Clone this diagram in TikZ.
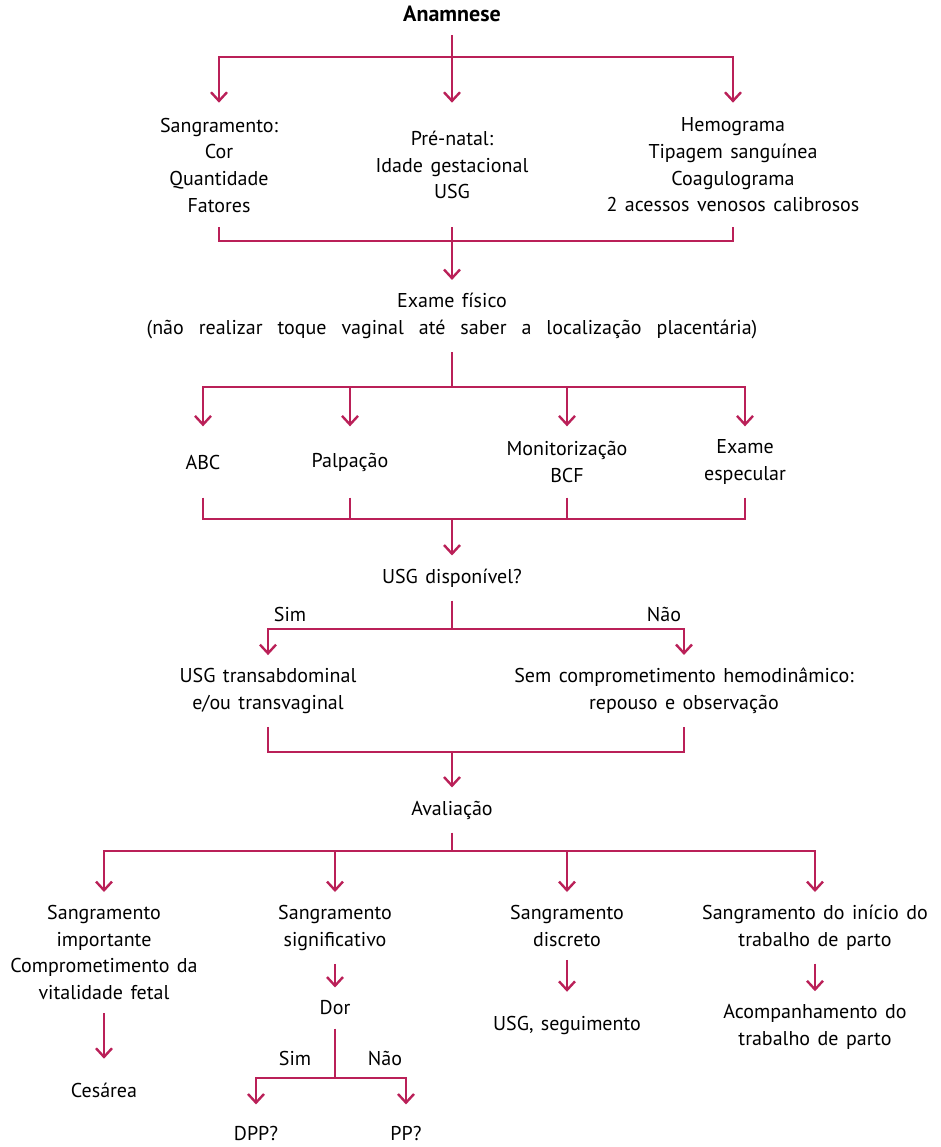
\documentclass[tikz,border=0pt]{standalone}
\usepackage{fontspec}
\setmainfont{PT Sans}[WordSpace=1.4]
\usetikzlibrary{arrows.meta}

\definecolor{fluxo}{RGB}{186,32,88}

\begin{document}
\begin{tikzpicture}[
    x=0.75pt, y=-0.75pt,
    txt/.style={align=center, inner sep=0pt, outer sep=10pt,
        font=\fontsize{15}{20}\selectfont},
    fim/.style={txt, outer ysep=18pt},
    rotulo/.style={inner sep=0pt, font=\fontsize{15}{20}\selectfont},
    liga/.style={draw=fluxo, line width=1.8pt},
    seta/.style={liga, -{Straight Barb[length=6.5pt,width=12pt]}}
]
\useasboundingbox (0,0) rectangle (940,1147);

% anamnese e primeira linha
\node[txt, font=\fontsize{16.5}{20}\selectfont\bfseries] (anam) at (452,14) {Anamnese};

\node[txt, minimum height=73.5pt] (sang) at (219,165)
{Sangramento:\\Cor\\Quantidade\\Fatores};
\node[txt, minimum height=73.5pt] (pren) at (452,165)
{Pré-natal:\\Idade gestacional\\USG};
\node[txt, minimum height=73.5pt] (hemo) at (733,165)
{Hemograma\\Tipagem sanguínea\\Coagulograma\\2 acessos venosos calibrosos};

\coordinate (j1) at (452,57);
\draw[liga] (anam) -- (j1);
\draw[seta] (j1) -| (sang);
\draw[seta] (j1) -- (pren);
\draw[seta] (j1) -| (hemo);

% exame fisico
\node[txt] (exame) at (452,316)
{Exame físico\\\hbox to 458pt{(não realizar toque vaginal até saber a localização placentária)}};

\coordinate (j2) at (452,241);
\draw[liga] (sang) |- (j2);
\draw[liga] (hemo) |- (j2);
\draw[seta] (pren) -- (exame);

\node[txt, minimum height=33.5pt] (abc) at (203,462) {ABC};
\node[txt, minimum height=33.5pt] (palp) at (350,462) {Palpação};
\node[txt, minimum height=33.5pt] (moni) at (567,462) {Monitorização\\BCF};
\node[txt, minimum height=33.5pt] (espec) at (745,462) {Exame\\especular};

\coordinate (j3) at (452,387);
\draw[liga] (exame) -- (j3);
\foreach \n in {abc,palp,moni,espec}
    \draw[seta] (j3) -| (\n);

% usg
\node[txt] (usgd) at (452,578) {USG disponível?};

\coordinate (j4) at (452,519);
\draw[liga] (abc) |- (j4);
\draw[liga] (palp) |- (j4);
\draw[liga] (moni) |- (j4);
\draw[liga] (espec) |- (j4);
\draw[seta] (j4) -- (usgd);

\node[txt] (trans) at (268,691) {USG transabdominal\\e/ou transvaginal};
\node[txt] (semc) at (684,691) {Sem comprometimento hemodinâmico:\\repouso e observação};

\coordinate (j5) at (452,629);
\draw[liga] (usgd) -- (j5);
\draw[seta] (j5) -| (trans);
\draw[seta] (j5) -| (semc);
\node[rotulo] (sim1) at (290,614) {Sim};
\node[rotulo] (nao1) at (664,614) {Não};

% avaliacao
\node[txt] (aval) at (452,810) {Avaliação};

\coordinate (j6) at (452,752);
\draw[liga] (trans) |- (j6);
\draw[liga] (semc) |- (j6);
\draw[seta] (j6) -- (aval);

\node[txt, anchor=north] (imp) at (104,892)
{Sangramento\\importante\\Comprometimento da\\vitalidade fetal};
\node[txt, anchor=north] (sig) at (335,892) {Sangramento\\significativo};
\node[txt, anchor=north] (disc) at (567,892) {Sangramento\\discreto};
\node[txt, anchor=north] (inic) at (815,892) {Sangramento do início do\\trabalho de parto};

\coordinate (j7) at (452,851);
\draw[liga] (aval) -- (j7);
\foreach \n in {imp,sig,disc,inic}
    \draw[seta] (j7) -| (\n);

% condutas
\node[fim] (ces) at (104,1090) {Cesárea};
\node[txt] (dor) at (335,1008) {Dor};
\node[fim] (segu) at (567,1025) {USG, seguimento};
\node[txt] (acomp) at (815,1027) {Acompanhamento do\\trabalho de parto};

\draw[seta] (imp) -- (ces);
\draw[seta] (sig) -- (dor);
\draw[seta] (disc) -- (segu);
\draw[seta] (inic) -- (acomp);

\node[fim, outer ysep=16pt] (dpp) at (256,1133) {DPP?};
\node[fim, outer ysep=16pt] (pp) at (406,1133) {PP?};

\coordinate (j8) at (335,1078);
\draw[liga] (dor) -- (j8);
\draw[seta] (j8) -| (dpp);
\draw[seta] (j8) -| (pp);
\node[rotulo] (sim2) at (295,1058) {Sim};
\node[rotulo] (nao2) at (385,1058) {Não};

\end{tikzpicture}
\end{document}
